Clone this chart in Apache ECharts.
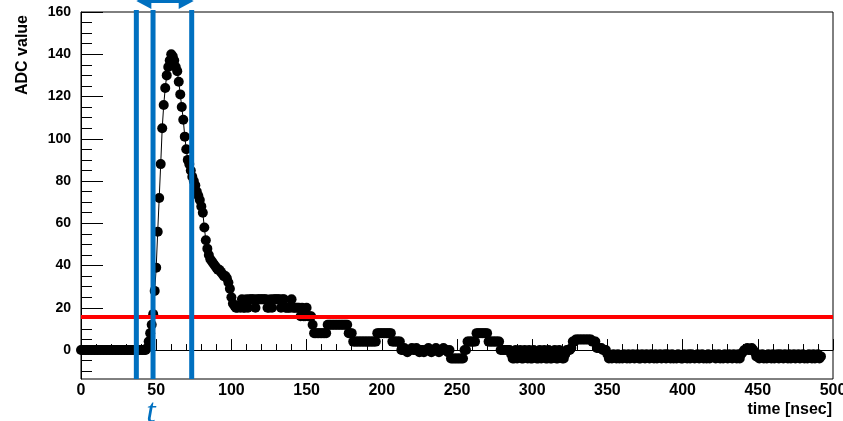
<!DOCTYPE html>
<html>
<head>
<meta charset="utf-8">
<script src="https://cdn.jsdelivr.net/npm/echarts@6/dist/echarts.min.js"></script>
<style>
  html, body { margin: 0; padding: 0; background: #fff; }
  #chart { width: 843px; height: 421px; }
</style>
</head>
<body>
<div id="chart"></div>
<script>
// ADC waveform, one sample per ns (index = time in ns)
const adcValues = [
  0, 0, 0, 0, 0, 0, 0, 0, 0, 0,            // 0
  0, 0, 0, 0, 0, 0, 0, 0, 0, 0,            // 10
  0, 0, 0, 0, 0, 0, 0, 0, 0, 0,            // 20
  0, 0, 0, 0, 0, 0, 0, 0, 0, 0,            // 30
  0, 0, 0, 0, 1, 4, 8, 12, 17, 28,         // 40
  39, 56, 72, 88, 105, 116, 124, 130, 134, 137, // 50
  140, 139, 137, 134, 132, 127, 121, 115, 109, 101, // 60
  95, 90, 88, 85, 82, 80, 78, 75, 73, 71,  // 70
  68, 65, 58, 52, 48, 45, 43, 42, 41, 40,  // 80
  39, 38, 38, 37, 36, 35, 35, 34, 32, 29,  // 90
  25, 22, 21, 20, 20, 21, 20, 24, 20, 20,  // 100
  24, 20, 24, 24, 24, 24, 20, 24, 24, 24,  // 110
  24, 24, 24, 24, 20, 20, 24, 20, 24, 24,  // 120
  24, 24, 24, 20, 24, 24, 20, 20, 20, 20,  // 130
  24, 20, 20, 20, 20, 20, 16, 20, 16, 16,  // 140
  20, 16, 16, 16, 12, 8, 8, 8, 8, 8,       // 150
  8, 8, 8, 8, 12, 12, 12, 12, 12, 12,      // 160
  12, 12, 12, 12, 12, 12, 12, 12, 8, 8,    // 170
  8, 4, 4, 4, 4, 4, 4, 4, 4, 4,            // 180
  4, 4, 4, 4, 4, 4, 4, 8, 8, 8,            // 190
  8, 8, 8, 8, 8, 8, 8, 4, 4, 4,            // 200
  4, 4, 4, 0, 0, 1, 0, -1, 0, 0,           // 210
  1, 0, 0, 1, 0, -1, 0, 0, -1, 0,          // 220
  0, 1, 0, -1, 0, 0, 1, 0, -1, 0,          // 230
  0, 1, 0, 0, -1, 0, -4, -4, -4, -4,       // 240
  -4, -4, -4, -4, -4, 0, 0, 4, 4, 4,       // 250
  4, 4, 4, 8, 8, 8, 8, 8, 8, 8,            // 260
  8, 4, 4, 4, 4, 4, 4, 4, 4, 0,            // 270
  0, 0, 0, 0, 0, 0, -2, -4, -4, 0,         // 280
  -4, -2, 0, -4, -4, 0, -2, -4, 0, -4,     // 290
  -4, 0, -2, -4, -4, 0, -4, -2, 0, -4,     // 300
  -4, 0, -4, -4, -2, 0, -4, -4, 0, -2,     // 310
  -4, -4, -2, 0, 0, 0, 1, 4, 4, 5,         // 320
  5, 5, 5, 5, 5, 5, 5, 5, 5, 5,            // 330
  4, 4, 4, 1, 1, 1, 1, 0, 0, 0,            // 340
  -2, -4, -3, -4, -2, -3, -4, -2, -4, -3,  // 350
  -4, -2, -3, -4, -2, -4, -3, -2, -4, -3,  // 360
  -2, -4, -4, -2, -3, -4, -2, -3, -4, -2,  // 370
  -3, -4, -2, -4, -3, -2, -4, -3, -2, -4,  // 380
  -2, -3, -4, -2, -4, -3, -4, -2, -3, -4,  // 390
  -4, -2, -3, -4, -2, -4, -2, -3, -4, -3,  // 400
  -2, -4, -3, -2, -4, -3, -4, -2, -4, -3,  // 410
  -3, -2, -4, -3, -2, -4, -3, -4, -2, -3,  // 420
  -4, -2, -3, -4, -2, -3, -4, -2, -4, -2,  // 430
  -1, 0, 0, 1, 0, 0, 1, 0, -1, -3,         // 440
  -2, -4, -3, -2, -4, -3, -4, -2, -3, -4,  // 450
  -2, -4, -3, -2, -4, -2, -3, -4, -2, -3,  // 460
  -4, -2, -4, -3, -2, -4, -3, -2, -4, -3,  // 470
  -2, -4, -3, -4, -2, -3, -4, -2, -4, -3,  // 480
  -2, -4, -3                               // 490
];

const yTickLabels = [0, 20, 40, 60, 80, 100, 120, 140, 160];
const yMinorTicks = [-10, -5, 5, 10, 15, 25, 30, 35, 45, 50, 55, 65, 70, 75,
  85, 90, 95, 105, 110, 115, 125, 130, 135, 145, 150, 155];
const yMin = -13.7;
const yMax = 160;

const thresholdAdc = 15.8;                 // red line
const windowLinesNs = [36.8, 47.9, 73.6];  // blue markers

const chartDom = document.getElementById('chart');
const chart = echarts.init(chartDom);

const labelFont = 'Liberation Sans, Arial, sans-serif';
const points = adcValues.map((v, i) => [i, v]);

const option = {
  animation: false,
  grid: {
    left: 81,
    right: 10,
    top: 12,
    bottom: 42,
    containLabel: false,
    outerBoundsMode: 'none',
    show: true,
    borderColor: '#000',
    borderWidth: 1,
    backgroundColor: 'transparent'
  },
  xAxis: {
    type: 'value',
    min: 0,
    max: 500,
    interval: 50,
    axisLine: { lineStyle: { color: '#000', width: 1 } },
    axisTick: { inside: true, length: 11, lineStyle: { color: '#000' } },
    minorTick: { show: true, splitNumber: 5, length: 6, lineStyle: { color: '#000' } },
    splitLine: { show: false },
    axisLabel: {
      color: '#000',
      fontFamily: labelFont,
      fontWeight: 'bold',
      fontSize: 16,
      margin: 4
    }
  },
  yAxis: [
    {
      type: 'value',
      min: yMin,
      max: yMax,
      axisLine: { show: true, lineStyle: { color: '#000', width: 1 } },
      axisTick: { inside: true, length: 22, customValues: yTickLabels, lineStyle: { color: '#000' } },
      axisLabel: {
        customValues: yTickLabels,
        color: '#000',
        fontFamily: labelFont,
        fontWeight: 'bold',
        fontSize: 14,
        margin: 10
      },
      splitLine: { show: false }
    },
    {
      // minor ticks only
      type: 'value',
      min: yMin,
      max: yMax,
      position: 'left',
      axisLine: { show: false },
      axisTick: { show: true, inside: true, length: 11, customValues: yMinorTicks, lineStyle: { color: '#000' } },
      axisLabel: { show: false },
      splitLine: { show: false }
    }
  ],
  series: [
    {
      // zero line, under the data
      type: 'line',
      data: [],
      z: 1,
      silent: true,
      markLine: {
        symbol: 'none',
        silent: true,
        label: { show: false },
        lineStyle: { color: '#000', width: 1, type: 'solid' },
        data: [{ yAxis: 0 }]
      }
    },
    {
      // connecting line
      type: 'line',
      data: points,
      showSymbol: false,
      lineStyle: { color: '#000', width: 1 },
      z: 3,
      silent: true
    },
    {
      // markers, every sample
      type: 'scatter',
      data: points,
      symbol: 'circle',
      symbolSize: 10,
      itemStyle: { color: '#000', opacity: 1 },
      z: 4,
      silent: true
    },
    {
      // threshold line, drawn on top
      type: 'line',
      data: [],
      z: 10,
      silent: true,
      markLine: {
        symbol: 'none',
        silent: true,
        label: { show: false },
        lineStyle: { color: '#ff0000', width: 4, type: 'solid' },
        data: [{ yAxis: thresholdAdc }]
      }
    }
  ]
};

chart.setOption(option);

// annotations: blue window lines, double arrow, the "t" label and axis titles
const blue = '#0070c0';
const xPx = windowLinesNs.map(t => chart.convertToPixel({ xAxisIndex: 0 }, t));
const yTop = chart.convertToPixel({ yAxisIndex: 0 }, 160.9);
const yBottom = chart.convertToPixel({ yAxisIndex: 0 }, yMin);
const xRight = chart.convertToPixel({ xAxisIndex: 0 }, 500);

const graphics = xPx.map(x => ({
  type: 'line',
  z: 100,
  shape: { x1: x, y1: yTop, x2: x, y2: yBottom },
  style: { stroke: blue, lineWidth: 5 }
}));

const ay = 1;
const aL = xPx[0];
const aR = xPx[2] + 2;
graphics.push({
  type: 'polygon',
  z: 100,
  shape: {
    points: [
      [aL, ay], [aL + 15, ay - 8], [aL + 15, ay - 2], [aR - 15, ay - 2],
      [aR - 15, ay - 8], [aR, ay], [aR - 15, ay + 8], [aR - 15, ay + 2],
      [aL + 15, ay + 2], [aL + 15, ay + 8]
    ]
  },
  style: { fill: blue }
});

graphics.push({
  type: 'text',
  z: 100,
  x: xPx[1] - 2,
  y: 396,
  style: {
    text: 't',
    fill: blue,
    font: 'italic 34px "Liberation Serif", "DejaVu Serif", serif',
    align: 'center',
    verticalAlign: 'top'
  }
});

graphics.push({
  type: 'text',
  z: 100,
  x: xRight - 1,
  y: 402,
  style: {
    text: 'time [nsec]',
    fill: '#000',
    font: 'bold 16px ' + labelFont,
    align: 'right',
    verticalAlign: 'top'
  }
});

graphics.push({
  type: 'text',
  z: 100,
  x: 22.5,
  y: 55,
  rotation: Math.PI / 2,
  style: {
    text: 'ADC value',
    fill: '#000',
    font: 'bold 16px ' + labelFont,
    align: 'center',
    verticalAlign: 'middle'
  }
});

chart.setOption({ graphic: graphics });

window.addEventListener('resize', () => chart.resize());
</script>
</body>
</html>
